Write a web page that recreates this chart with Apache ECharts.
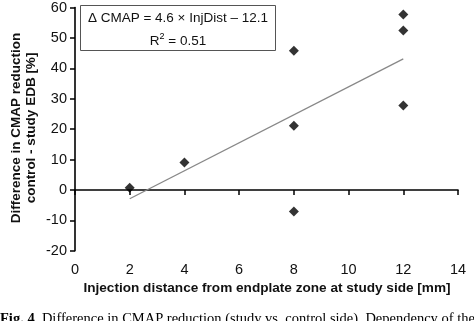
<!DOCTYPE html>
<html><head><meta charset="utf-8">
<script src="https://cdn.jsdelivr.net/npm/echarts@6/dist/echarts.min.js"></script>
<style>html,body{margin:0;padding:0;background:#fff}#c{width:474px;height:321px}</style>
</head><body><div id="c"></div>
<script>
var injDist = [2, 4, 8, 8, 8, 12, 12, 12];
var cmapDiff = [0.7, 9.0, 45.8, 21.1, -7.1, 57.7, 52.4, 27.8];
var trendX = [2, 12];
var trendY = [-2.9, 43.1];
var equationText = 'Δ CMAP = 4.6 × InjDist – 12.1';
var r2Base = 'R', r2Sup = '2', r2Rest = ' = 0.51';
var xTitle = 'Injection distance from endplate zone at study side [mm]';
var yTitle1 = 'Difference in CMAP reduction';
var yTitle2 = 'control - study EDB [%]';
var captionLead = 'Fig. 4';
var caption = '  Difference in CMAP reduction (study vs. control side). Dependency of the';

var chart = echarts.init(document.getElementById('c'), null, {renderer:'canvas'});
var font = 'Liberation Sans, Arial, sans-serif';
chart.setOption({
  animation:false,
  grid:{left:75,right:16,top:6,bottom:70.3},
  xAxis:{type:'value',min:0,max:14,interval:2,
    axisLine:{lineStyle:{color:'#000',width:1.6}},
    axisTick:{show:true,length:5,lineStyle:{color:'#000',width:1.5}},
    axisLabel:{color:'#111',fontSize:14.5,fontFamily:font,margin:12},
    splitLine:{show:false}},
  yAxis:{type:'value',min:-20,max:60,interval:10,
    axisLine:{show:true,lineStyle:{color:'#000',width:1.6}},
    axisTick:{show:true,length:5,lineStyle:{color:'#000',width:1.5}},
    axisLabel:{color:'#111',fontSize:14.5,fontFamily:font,margin:8},
    splitLine:{show:false}},
  series:[
    {type:'scatter',data:injDist.map(function(x,i){return [x,cmapDiff[i]];}),
     symbol:'diamond',symbolSize:10,itemStyle:{color:'#000'}},
    {type:'line',data:trendX.map(function(x,i){return [x,trendY[i]];}),
     symbol:'none',lineStyle:{color:'#888',width:1.3}}
  ],
  graphic:[
    {type:'rect',shape:{x:80.5,y:5.5,width:195,height:45},style:{fill:'#fff',stroke:'#555',lineWidth:1}},
    {type:'text',x:178,y:18,style:{text:equationText,font:'13.5px '+font,fill:'#111',textAlign:'center',textVerticalAlign:'middle'}},
    {type:'text',x:178,y:41,style:{text:'{a|'+r2Base+'}{s|'+r2Sup+'}{a|'+r2Rest+'}',textAlign:'center',textVerticalAlign:'middle',
      rich:{a:{fontSize:13.5,fontFamily:font,fill:'#111',color:'#111'},s:{fontSize:9,fontFamily:font,color:'#111',padding:[0,0,9,0]}}}},
    {type:'text',x:267,y:288,style:{text:xTitle,font:'bold 13.6px '+font,fill:'#111',textAlign:'center',textVerticalAlign:'middle'}},
    {type:'text',x:16,y:128,rotation:Math.PI/2,style:{text:yTitle1,font:'bold 13.5px '+font,fill:'#111',textAlign:'center',textVerticalAlign:'middle'}},
    {type:'text',x:31,y:128,rotation:Math.PI/2,style:{text:yTitle2,font:'bold 13.5px '+font,fill:'#111',textAlign:'center',textVerticalAlign:'middle'}},
    {type:'text',x:0,y:326.5,style:{text:'{b|'+captionLead+'}{n|'+caption+'}',textAlign:'left',textVerticalAlign:'bottom',
      rich:{b:{fontSize:14.5,fontWeight:'bold',fontFamily:'Liberation Serif, serif',color:'#222'},n:{fontSize:14.5,fontFamily:'Liberation Serif, serif',color:'#333'}}}}
  ]
});
</script></body></html>
